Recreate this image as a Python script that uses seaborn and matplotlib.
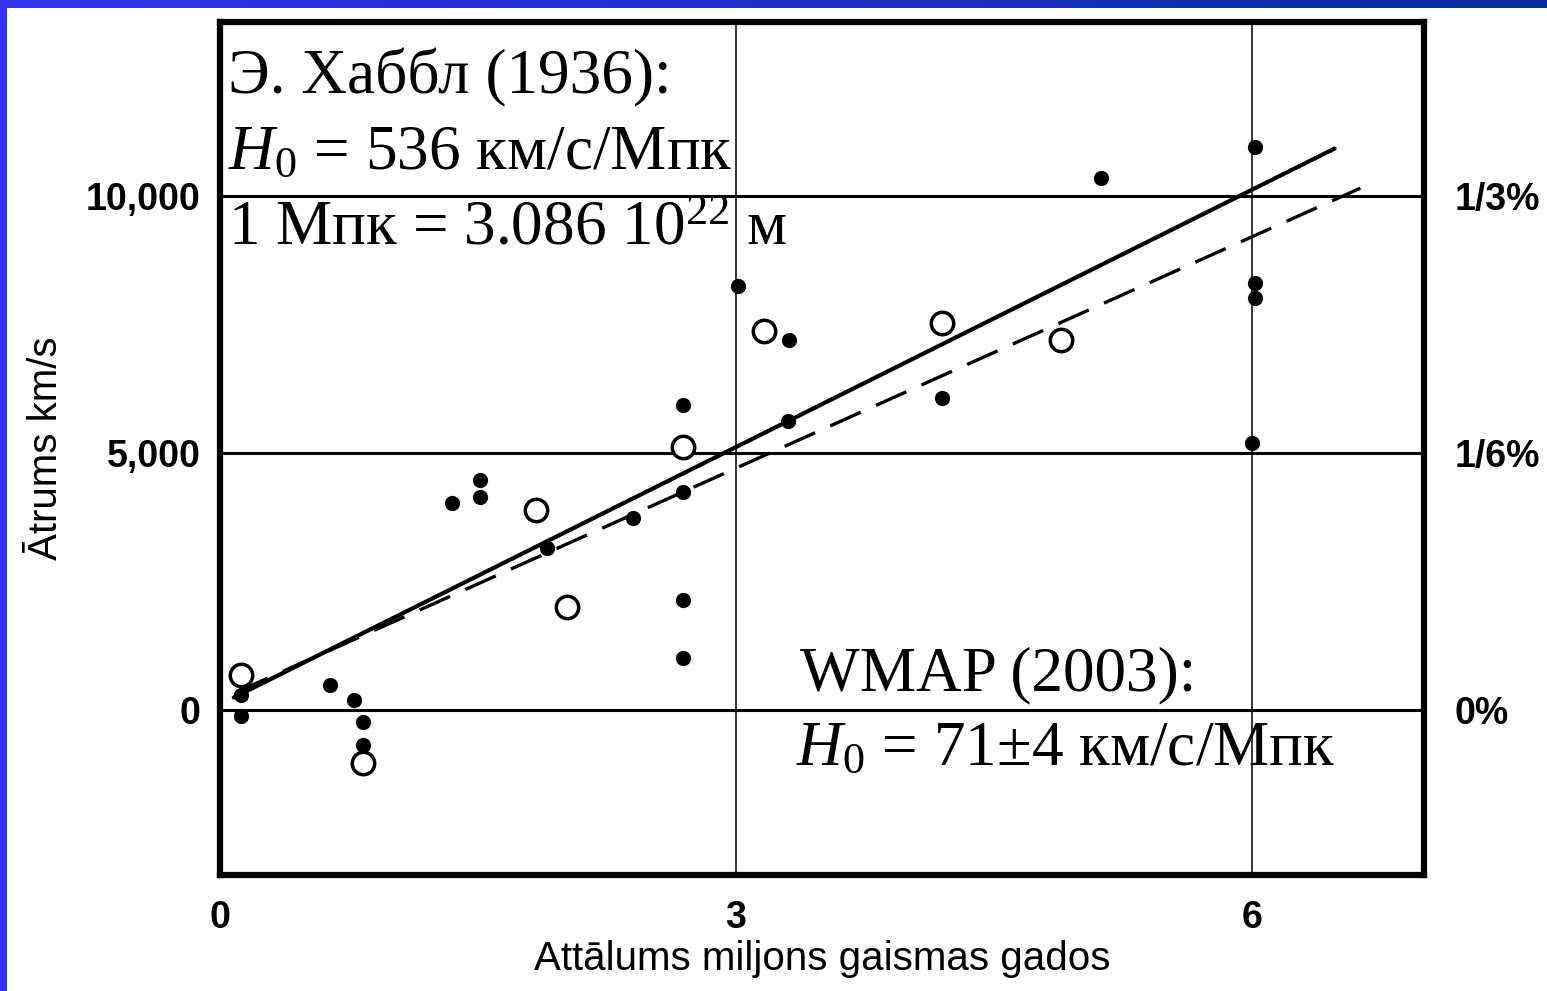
import numpy as np
import matplotlib
matplotlib.use('Agg')
import matplotlib.pyplot as plt
import seaborn as sns

# galaxies, filled dots
x_filled = [0.12, 0.12, 0.64, 0.78, 0.83, 0.83, 1.35, 1.51, 1.51, 1.90, 2.40,
            2.69, 2.69, 2.69, 2.69, 3.01, 3.31, 3.30, 4.20, 5.12, 6.02, 6.02, 6.02, 6.00]
y_filled = [-100, 300, 490, 200, -230, -680, 4030, 4480, 4150, 3150, 3740,
            5940, 4240, 2140, 1010, 8250, 7200, 5620, 6070, 10350, 10960, 8310, 8020, 5200]

# open circles
x_open = [0.12, 0.83, 1.84, 2.02, 2.69, 3.16, 4.20, 4.89]
y_open = [680, -1030, 3890, 2010, 5120, 7375, 7530, 7200]

# fitted lines (end points)
solid_x = [0.08, 6.48]
solid_y = [250, 10920]
dashed_x = [0.10, 6.63]
dashed_y = [360, 10150]

y_ticks = [0, 5000, 10000]
y_labels = ['0', '5,000', '10,000']
y_right_labels = ['0%', '1/6%', '1/3%']
x_ticks = [0, 3, 6]
x_labels = ['0', '3', '6']

sns.set_style('white')
plt.rcParams['mathtext.fontset'] = 'custom'
plt.rcParams['mathtext.rm'] = 'Liberation Serif'
plt.rcParams['mathtext.it'] = 'Liberation Serif:italic'
for k in ['text.color', 'axes.labelcolor', 'xtick.color', 'ytick.color']:
    plt.rcParams[k] = 'black'

W, H = 1547, 991
fig = plt.figure(figsize=(W / 100, H / 100), dpi=100)
fig.patch.set_facecolor('white')

# blue slide border (top gradient, left strip)
top = fig.add_axes([0, 1 - 8 / H, 1, 8 / H])
grad = np.linspace(0, 1, 256)[None, :, None]
c0 = np.array([0.20, 0.20, 0.93])
c1 = np.array([0.04, 0.17, 0.62])
top.imshow(c0 + (c1 - c0) * grad, aspect='auto', extent=[0, 1, 0, 1])
top.axis('off')
left = fig.add_axes([0, 0, 7 / W, 1])
left.set_facecolor('#3333f5')
left.set_xticks([])
left.set_yticks([])
for s in left.spines.values():
    s.set_visible(False)

ax = fig.add_axes([220 / W, 1 - 875 / H, (1424 - 220) / W, (875 - 22) / H])
ax.set_xlim(0, 7)
ax.set_ylim(-3200, 13380)

# grid
for yv in y_ticks:
    ax.axhline(yv, color='black', lw=2.2, zorder=1)
for xv in x_ticks[1:]:
    ax.axvline(xv, color='black', lw=1.1, zorder=1)

sns.lineplot(x=solid_x, y=solid_y, ax=ax, color='black', lw=3, zorder=2)
sns.lineplot(x=dashed_x, y=dashed_y, ax=ax, color='black', lw=2.4,
             dashes=False, linestyle=(0, (10, 5)), zorder=2)
sns.scatterplot(x=x_filled, y=y_filled, ax=ax, color='black', s=120,
                linewidth=0, zorder=3)
sns.scatterplot(x=x_open, y=y_open, ax=ax, color='white', edgecolor='black',
                s=260, linewidth=2.5, zorder=3)

for s in ax.spines.values():
    s.set_linewidth(4.5)
    s.set_color('black')

tick_font = dict(family='Liberation Sans', weight='bold', size=27)
ax.set_yticks(y_ticks)
ax.set_yticklabels(y_labels, **tick_font)
ax.set_xticks(x_ticks)
ax.set_xticklabels(x_labels, **tick_font)
ax.tick_params(length=0, pad=14)
ax.tick_params(axis='x', pad=18)

ax2 = ax.twinx()
ax2.set_ylim(ax.get_ylim())
ax2.set_yticks(y_ticks)
ax2.set_yticklabels(y_right_labels, **tick_font)
ax2.tick_params(length=0, pad=22)
for s in ax2.spines.values():
    s.set_visible(False)

ax.set_xlabel('Attālums miljons gaismas gados', family='Liberation Sans',
              size=29, labelpad=3)
ax.set_ylabel('Ātrums km/s', family='Liberation Sans', size=29, labelpad=15)

serif = dict(family='Liberation Serif', size=45.5, color='black', va='baseline', zorder=4)
ax.text(0.047, 12000, 'Э. Хаббл (1936):', **serif)
ax.text(0.047, 10510, r'$H_0$ = 536 км/с/Мпк', **serif)
ax.text(0.047, 9050, r'1 Мпк = 3.086 10$^{22}$ м', **serif)
ax.text(3.37, 390, 'WMAP (2003):', **serif)
ax.text(3.35, -1070, r'$H_0$ = 71±4 км/с/Мпк', **serif)

fig.savefig('out.png', dpi=100)
